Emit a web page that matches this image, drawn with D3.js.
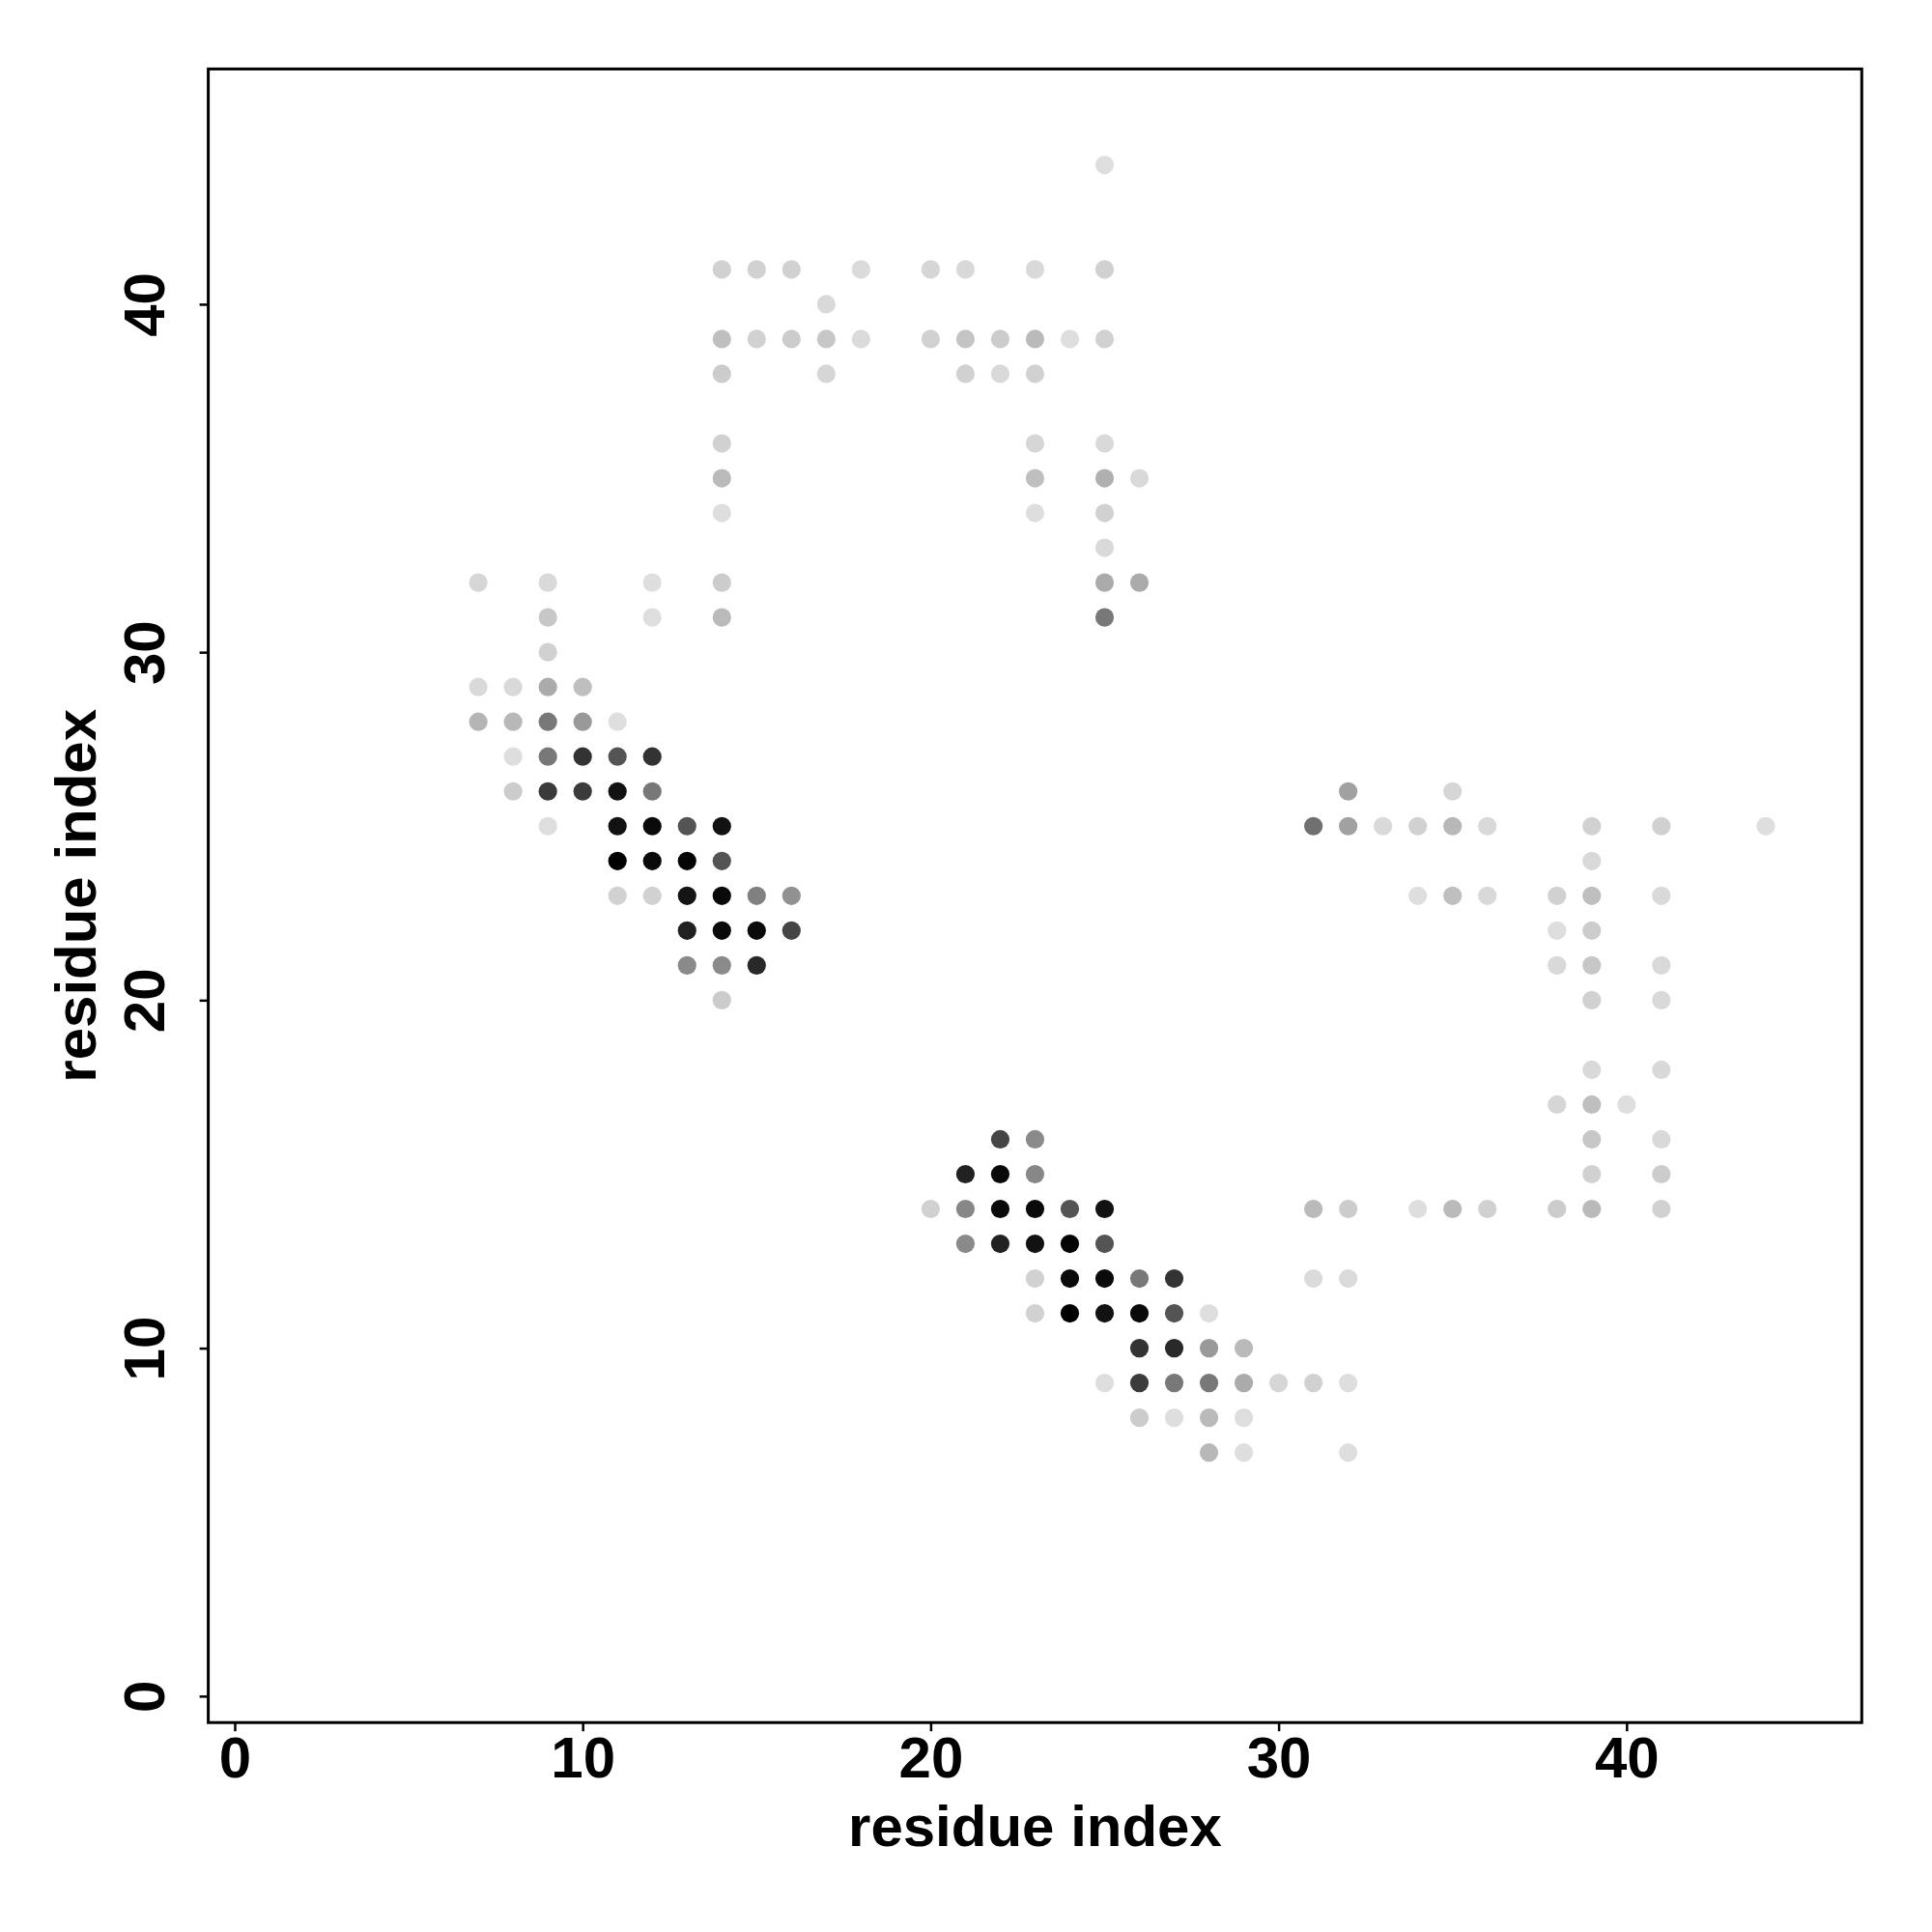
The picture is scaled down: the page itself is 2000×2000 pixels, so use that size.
<!DOCTYPE html>
<html>
<head>
<meta charset="utf-8">
<script src="https://cdn.jsdelivr.net/npm/d3@7"></script>
<style>
  html, body { margin: 0; padding: 0; background: #fff; }
  svg { display: block; }
  text { font-family: "Liberation Sans", Arial, Helvetica, sans-serif; font-weight: bold; }
</style>
</head>
<body>
<svg id="chart" width="2000" height="2000"></svg>
<script>
// ---- data: contact map (residue i, residue j, contact probability) ----
const resI = [
  25,
  14,15,16,18,20,21,23,25,
  17,
  14,15,16,17,18,20,21,22,23,24,25,
  14,17,21,22,23,
  14,23,25,
  14,23,25,26,
  14,23,25,
  25,
  7,9,12,14,25,26,
  9,12,14,25,
  9,
  7,8,9,10,
  7,8,9,10,11,
  8,9,10,11,12,
  8,9,10,11,12,32,35,
  9,11,12,13,14,31,32,33,34,35,36,39,41,44,
  11,12,13,14,39,
  11,12,13,14,15,16,34,35,36,38,39,41,
  13,14,15,16,38,39,
  13,14,15,38,39,41,
  14,39,41,
  39,41,
  38,39,40,
  22,23,39,41,
  21,22,23,39,41,
  20,21,22,23,24,25,31,32,34,35,36,38,39,41,
  21,22,23,24,25,
  23,24,25,26,27,31,32,
  23,24,25,26,27,28,
  26,27,28,29,
  25,26,27,28,29,30,31,32,
  26,27,28,29,
  28,29,32
];
const resJ = [
  44,
  41,41,41,41,41,41,41,41,
  40,
  39,39,39,39,39,39,39,39,39,39,39,
  38,38,38,38,38,
  36,36,36,
  35,35,35,35,
  34,34,34,
  33,
  32,32,32,32,32,32,
  31,31,31,31,
  30,
  29,29,29,29,
  28,28,28,28,28,
  27,27,27,27,27,
  26,26,26,26,26,26,26,
  25,25,25,25,25,25,25,25,25,25,25,25,25,25,
  24,24,24,24,24,
  23,23,23,23,23,23,23,23,23,23,23,23,
  22,22,22,22,22,22,
  21,21,21,21,21,21,
  20,20,20,
  18,18,
  17,17,17,
  16,16,16,16,
  15,15,15,15,15,
  14,14,14,14,14,14,14,14,14,14,14,14,14,14,
  13,13,13,13,13,
  12,12,12,12,12,12,12,
  11,11,11,11,11,11,
  10,10,10,10,
  9,9,9,9,9,9,9,9,
  8,8,8,8,
  7,7,7
];
const contactProb = [
  .13,
  .18,.18,.18,.14,.16,.15,.15,.18,
  .15,
  .25,.18,.20,.22,.14,.18,.23,.20,.27,.13,.18,
  .20,.16,.18,.15,.18,
  .18,.16,.15,
  .27,.25,.31,.15,
  .13,.13,.18,
  .15,
  .16,.15,.13,.20,.33,.33,
  .22,.13,.27,.53,
  .18,
  .15,.15,.33,.25,
  .29,.28,.53,.40,.13,
  .13,.53,.80,.67,.80,
  .20,.77,.77,.93,.53,.37,.16,
  .13,.93,.96,.67,.93,.56,.37,.15,.18,.28,.15,.18,.18,.13,
  1.0,.96,.98,.67,.15,
  .18,.18,.92,.96,.50,.43,.13,.25,.15,.18,.25,.15,
  .87,.96,.96,.73,.13,.20,
  .46,.46,.84,.15,.22,.15,
  .20,.18,.15,
  .15,.15,
  .16,.25,.13,
  .73,.46,.22,.15,
  .87,.96,.47,.18,.20,
  .18,.47,.96,.96,.67,.93,.27,.20,.13,.27,.18,.20,.27,.18,
  .46,.87,.93,.98,.67,
  .18,.96,.96,.53,.80,.14,.14,
  .18,1.0,.93,.96,.67,.13,
  .80,.84,.40,.27,
  .13,.77,.53,.53,.33,.16,.18,.13,
  .20,.13,.27,.13,
  .28,.13,.13
];
const tickValues = [0, 10, 20, 30, 40];
const xTitle = "residue index";
const yTitle = "residue index";

const points = resI.map((d, k) => ({ i: d, j: resJ[k], p: contactProb[k] }));

// ---- layout ----
const svg = d3.select("#chart");
const plotL = 215.6, plotR = 1927.3, plotT = 71.4, plotB = 1783.2;
const dataMin = 1, dataMax = 45, pad = (dataMax - dataMin) * 0.04;

const x = d3.scaleLinear().domain([dataMin - pad, dataMax + pad]).range([plotL, plotR]);
const y = d3.scaleLinear().domain([dataMin - pad, dataMax + pad]).range([plotB, plotT]);
const grey = d3.scaleLinear().domain([0, 1]).range(["#ffffff", "#000000"]);

// points
svg.append("g").selectAll("circle")
  .data(points)
  .join("circle")
  .attr("cx", d => x(d.i))
  .attr("cy", d => y(d.j))
  .attr("r", 9.6)
  .attr("fill", d => grey(d.p));

// frame
svg.append("rect")
  .attr("x", plotL).attr("y", plotT)
  .attr("width", plotR - plotL).attr("height", plotB - plotT)
  .attr("fill", "none").attr("stroke", "#000").attr("stroke-width", 3);

// x axis
const gx = svg.append("g").attr("transform", `translate(0,${plotB})`)
  .call(d3.axisBottom(x).tickValues(tickValues).tickSize(9).tickSizeOuter(0).tickFormat(d3.format("d")));
gx.select(".domain").remove();
gx.selectAll(".tick line").attr("stroke-width", 2.5);
gx.selectAll(".tick text")
  .attr("y", 57).attr("dy", null)
  .attr("font-size", 60).attr("fill", "#000")
  .style("font-family", '"Liberation Sans", Arial, sans-serif').style("font-weight", "bold");

// y axis
const gy = svg.append("g").attr("transform", `translate(${plotL},0)`)
  .call(d3.axisLeft(y).tickValues(tickValues).tickSize(9).tickSizeOuter(0).tickFormat(d3.format("d")));
gy.select(".domain").remove();
gy.selectAll(".tick line").attr("stroke-width", 2.5);
gy.selectAll(".tick text")
  .attr("x", null).attr("dy", null)
  .attr("text-anchor", "middle")
  .attr("transform", `translate(${170 - plotL},0) rotate(-90)`)
  .attr("font-size", 60).attr("fill", "#000")
  .style("font-family", '"Liberation Sans", Arial, sans-serif').style("font-weight", "bold");

// titles
svg.append("text")
  .attr("x", (plotL + plotR) / 2).attr("y", 1911)
  .attr("text-anchor", "middle").attr("font-size", 60)
  .text(xTitle);
svg.append("text")
  .attr("transform", `translate(99,${(plotT + plotB) / 2}) rotate(-90)`)
  .attr("text-anchor", "middle").attr("font-size", 60)
  .text(yTitle);
</script>
</body>
</html>
